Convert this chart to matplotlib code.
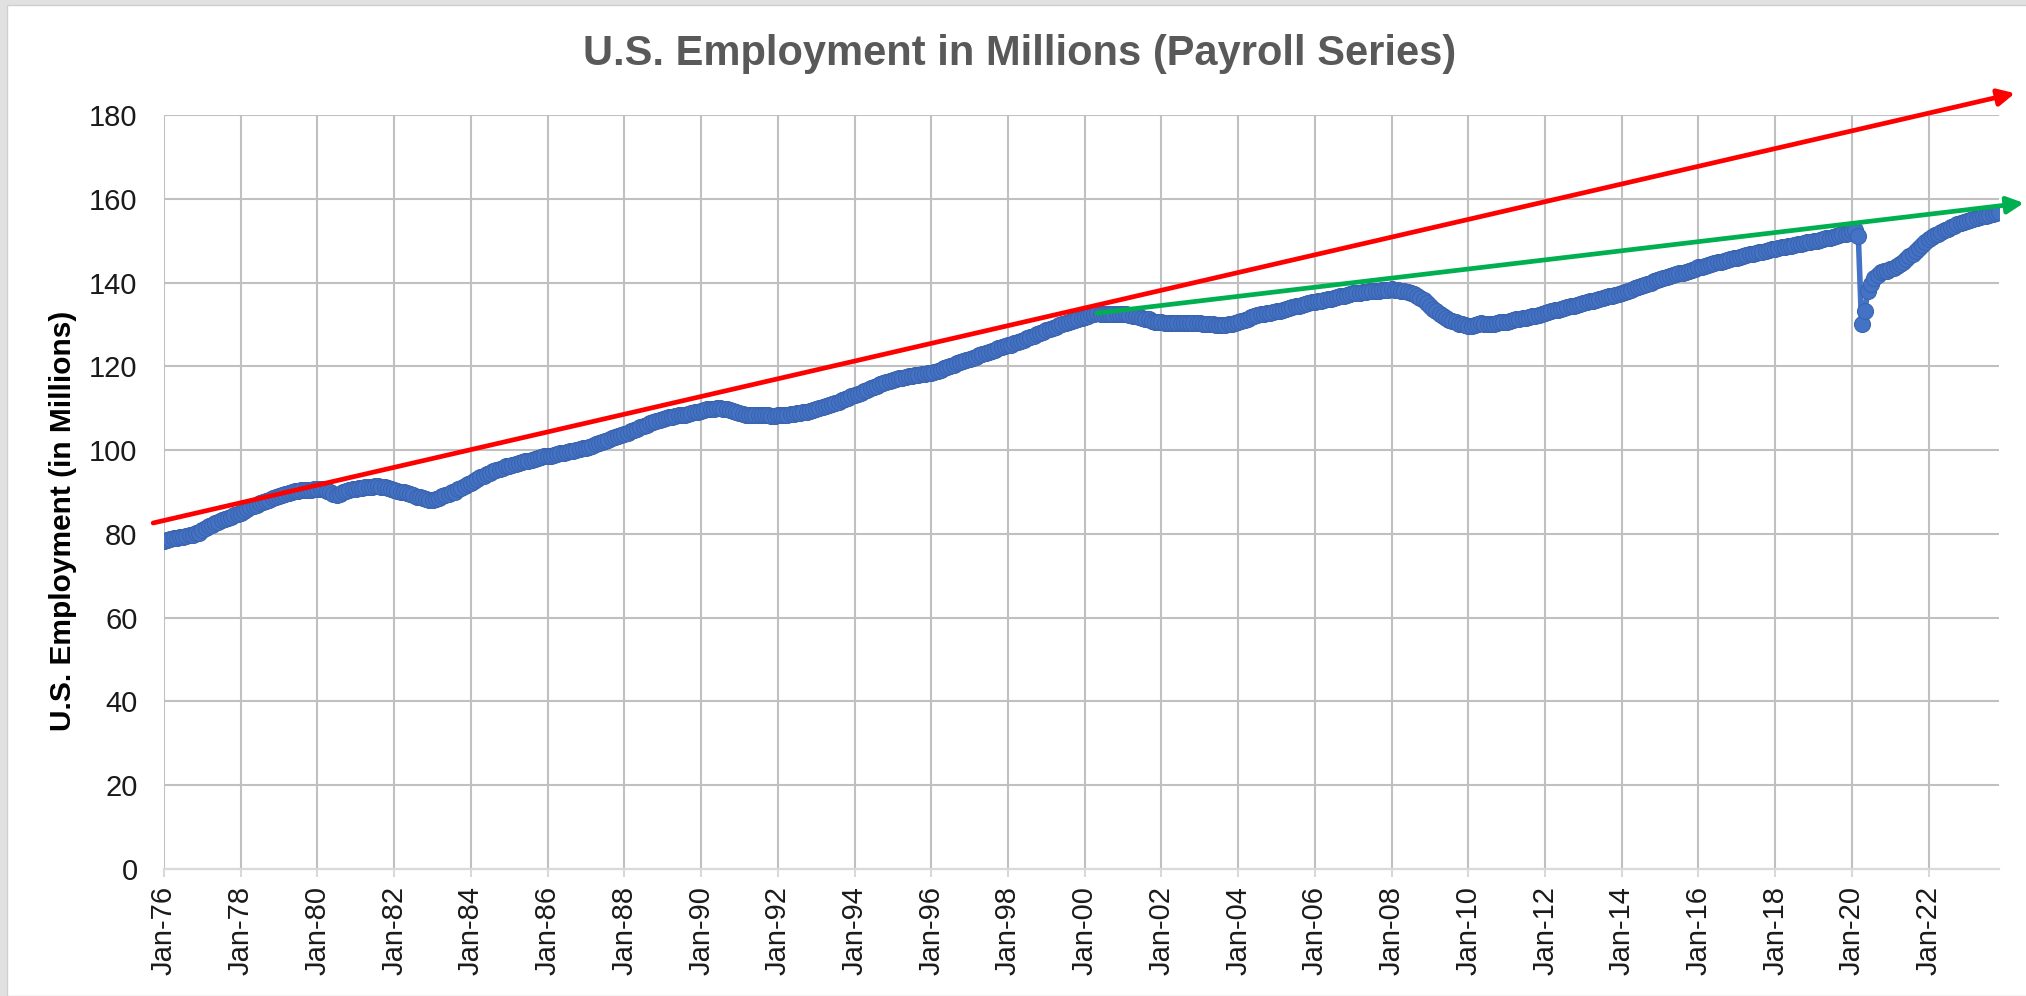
import matplotlib.pyplot as plt
import numpy as np
from matplotlib.patches import Rectangle

plt.rcParams["font.family"] = ["Liberation Sans", "DejaVu Sans"]

# Monthly nonfarm payroll employment (millions), Jan 1976 .. Nov 2023,
# read off the reference chart, one row per year.
emp_1970s = [
    78.3, 78.5, 78.7, 78.9, 79.0, 79.2, 79.3, 79.5, 79.7, 79.8, 80.1, 80.3,  # 1976
    81.0, 81.4, 81.8, 82.2, 82.5, 82.9, 83.2, 83.5, 83.8, 84.1, 84.4, 84.8,  # 1977
    85.1, 85.5, 85.9, 86.3, 86.7, 87.0, 87.3, 87.6, 87.9, 88.2, 88.5, 88.8,  # 1978
    89.0, 89.3, 89.6, 89.8, 90.0, 90.2, 90.3, 90.4, 90.4, 90.5, 90.5, 90.6,  # 1979
]
emp_1980s = [
    90.6, 90.7, 90.6, 90.3, 89.9, 89.5, 89.4, 89.6, 89.9, 90.2, 90.4, 90.6,  # 1980
    90.8, 90.9, 91.0, 91.1, 91.2, 91.3, 91.4, 91.4, 91.3, 91.1, 90.9, 90.7,  # 1981
    90.5, 90.3, 90.1, 89.9, 89.7, 89.5, 89.2, 88.9, 88.7, 88.5, 88.3, 88.2,  # 1982
    88.2, 88.4, 88.6, 89.0, 89.3, 89.6, 89.9, 90.0, 90.6, 91.0, 91.4, 91.8,  # 1983
    92.2, 92.6, 93.1, 93.5, 93.9, 94.3, 94.6, 94.9, 95.2, 95.5, 95.8, 96.1,  # 1984
    96.3, 96.5, 96.7, 96.9, 97.1, 97.3, 97.5, 97.7, 97.9, 98.1, 98.3, 98.5,  # 1985
    98.6, 98.7, 98.8, 99.0, 99.2, 99.3, 99.5, 99.7, 99.9, 100.0, 100.2, 100.4,  # 1986
    100.6, 100.8, 101.1, 101.4, 101.7, 101.9, 102.2, 102.5, 102.8, 103.1, 103.4, 103.7,  # 1987
    103.9, 104.2, 104.5, 104.8, 105.1, 105.5, 105.8, 106.1, 106.4, 106.7, 107.0, 107.3,  # 1988
    107.5, 107.7, 107.9, 108.0, 108.2, 108.3, 108.4, 108.5, 108.7, 108.8, 109.0, 109.1,  # 1989
]
emp_1990s = [
    109.3, 109.5, 109.7, 109.8, 109.9, 110.0, 110.0, 109.9, 109.8, 109.6, 109.4, 109.2,  # 1990
    108.9, 108.6, 108.4, 108.3, 108.3, 108.3, 108.3, 108.3, 108.3, 108.3, 108.2, 108.2,  # 1991
    108.3, 108.3, 108.4, 108.5, 108.6, 108.7, 108.8, 108.9, 109.0, 109.2, 109.3, 109.5,  # 1992
    109.7, 110.0, 110.2, 110.5, 110.7, 111.0, 111.3, 111.6, 111.9, 112.2, 112.5, 112.8,  # 1993
    113.1, 113.4, 113.7, 114.1, 114.4, 114.8, 115.1, 115.4, 115.7, 116.0, 116.3, 116.6,  # 1994
    116.8, 117.0, 117.2, 117.3, 117.5, 117.6, 117.8, 117.9, 118.0, 118.1, 118.2, 118.3,  # 1995
    118.4, 118.6, 118.9, 119.2, 119.5, 119.8, 120.1, 120.4, 120.7, 121.0, 121.3, 121.5,  # 1996
    121.7, 122.0, 122.3, 122.6, 122.9, 123.2, 123.4, 123.7, 124.0, 124.3, 124.6, 124.8,  # 1997
    125.0, 125.2, 125.5, 125.8, 126.1, 126.4, 126.7, 127.0, 127.3, 127.7, 128.0, 128.3,  # 1998
    128.6, 128.9, 129.2, 129.5, 129.8, 130.1, 130.3, 130.6, 130.8, 131.1, 131.3, 131.5,  # 1999
]
emp_2000s = [
    131.8, 132.1, 132.4, 132.6, 132.7, 132.6, 132.6, 132.5, 132.5, 132.4, 132.5, 132.5,  # 2000
    132.4, 132.4, 132.3, 132.1, 131.9, 131.8, 131.6, 131.4, 131.2, 130.9, 130.7, 130.6,  # 2001
    130.5, 130.4, 130.4, 130.4, 130.4, 130.4, 130.4, 130.4, 130.4, 130.4, 130.4, 130.3,  # 2002
    130.3, 130.2, 130.1, 130.0, 130.0, 129.9, 129.9, 129.8, 129.9, 130.0, 130.1, 130.3,  # 2003
    130.6, 130.8, 131.1, 131.4, 131.7, 132.0, 132.2, 132.4, 132.5, 132.7, 132.8, 133.0,  # 2004
    133.1, 133.3, 133.5, 133.7, 133.9, 134.1, 134.3, 134.5, 134.7, 134.9, 135.1, 135.3,  # 2005
    135.4, 135.5, 135.7, 135.8, 136.0, 136.1, 136.3, 136.5, 136.7, 136.9, 137.1, 137.3,  # 2006
    137.4, 137.5, 137.6, 137.7, 137.8, 137.9, 138.0, 138.0, 138.1, 138.2, 138.3, 138.3,  # 2007
    138.4, 138.3, 138.3, 138.1, 138.0, 137.8, 137.6, 137.3, 136.9, 136.4, 135.8, 135.2,  # 2008
    134.5, 133.8, 133.1, 132.5, 132.0, 131.5, 131.1, 130.8, 130.5, 130.2, 130.0, 129.8,  # 2009
]
emp_2010s = [
    129.6, 129.6, 129.8, 130.0, 130.3, 130.2, 130.2, 130.2, 130.2, 130.4, 130.5, 130.6,  # 2010
    130.7, 130.9, 131.1, 131.3, 131.4, 131.5, 131.6, 131.7, 131.9, 132.1, 132.3, 132.5,  # 2011
    132.8, 133.0, 133.2, 133.4, 133.5, 133.7, 133.9, 134.1, 134.3, 134.5, 134.7, 134.9,  # 2012
    135.1, 135.3, 135.5, 135.7, 135.9, 136.1, 136.3, 136.5, 136.7, 136.9, 137.1, 137.3,  # 2013
    137.5, 137.7, 138.0, 138.3, 138.6, 138.9, 139.2, 139.4, 139.7, 140.0, 140.3, 140.6,  # 2014
    140.8, 141.0, 141.3, 141.5, 141.8, 142.0, 142.2, 142.4, 142.6, 142.8, 143.0, 143.3,  # 2015
    143.6, 143.8, 144.0, 144.2, 144.4, 144.6, 144.8, 145.0, 145.2, 145.4, 145.6, 145.8,  # 2016
    145.9, 146.1, 146.3, 146.5, 146.7, 146.9, 147.0, 147.2, 147.4, 147.6, 147.8, 148.0,  # 2017
    148.1, 148.2, 148.4, 148.5, 148.7, 148.8, 149.0, 149.1, 149.2, 149.4, 149.6, 149.8,  # 2018
    149.9, 150.0, 150.2, 150.4, 150.6, 150.7, 150.9, 151.1, 151.3, 151.5, 151.7, 151.9,  # 2019
]
emp_2020s = [
    152.2, 152.5, 151.0, 130.2, 133.2, 138.0, 139.7, 141.1, 141.9, 142.5, 142.8, 142.7,  # 2020
    143.2, 143.5, 144.0, 144.4, 144.9, 145.6, 146.3, 146.9, 147.5, 148.2, 148.9, 149.6,  # 2021
    150.3, 150.8, 151.3, 151.7, 152.1, 152.5, 152.9, 153.3, 153.6, 153.9, 154.2, 154.5,  # 2022
    154.8, 155.0, 155.2, 155.4, 155.6, 155.8, 156.0, 156.2, 156.4, 156.6, 156.8,  # 2023
]

tick_labels = [
    "Jan-76", "Jan-78", "Jan-80", "Jan-82", "Jan-84", "Jan-86", "Jan-88",
    "Jan-90", "Jan-92", "Jan-94", "Jan-96", "Jan-98", "Jan-00", "Jan-02",
    "Jan-04", "Jan-06", "Jan-08", "Jan-10", "Jan-12", "Jan-14", "Jan-16",
    "Jan-18", "Jan-20", "Jan-22",
]

# hand-drawn trend arrows, (month index, millions)
red_trend = [(-3.4, 82.6), (579.0, 185.2)]
green_trend = [(291.8, 132.7), (581.8, 159.0)]

employment = np.concatenate(
    [emp_1970s, emp_1980s, emp_1990s, emp_2000s, emp_2010s, emp_2020s]
)
months = np.arange(len(employment))

fig = plt.figure(figsize=(20.26, 9.96), dpi=100)
fig.patch.set_facecolor("#e1e1e1")
fig.add_artist(
    Rectangle((7 / 2026, 0), 1, 1 - 5 / 996, transform=fig.transFigure,
              facecolor="white", edgecolor="#cfcfcf", linewidth=1.0, zorder=-5)
)

ax = fig.add_axes([164 / 2026, 127 / 996, 1835 / 2026, 754 / 996])
ax.set_zorder(1)
ax.set_facecolor("white")

ax.plot(
    months,
    employment,
    color="#4472C4",
    linewidth=4,
    marker="o",
    markersize=11.5,
    markerfacecolor="#4472C4",
    markeredgecolor="#3a64b0",
    markeredgewidth=0.8,
    zorder=3,
)

for (x0, y0), (x1, y1), color in (
    (*red_trend, "#ff0000"),
    (*green_trend, "#00b050"),
):
    ax.annotate(
        "",
        xy=(x1, y1),
        xytext=(x0, y0),
        arrowprops=dict(arrowstyle="-|>", color=color, lw=3.4,
                        mutation_scale=25, shrinkA=0, shrinkB=0),
        annotation_clip=False,
        zorder=4,
    )

ax.set_xlim(0, len(employment) - 1)
ax.set_ylim(0, 180)
ax.set_yticks(np.arange(0, 181, 20))
ax.set_xticks(np.arange(0, len(employment), 24)[: len(tick_labels)])
ax.set_xticklabels(tick_labels, rotation=90)

ax.grid(True, color="#c0c0c0", linewidth=1.5)
ax.set_axisbelow(True)
for side in ("top", "right", "left"):
    ax.spines[side].set_visible(False)
ax.spines["bottom"].set_color("#d9d9d9")
ax.spines["bottom"].set_linewidth(1.6)

ax.tick_params(axis="y", length=0, pad=19, labelsize=21, labelcolor="#1a1a1a")
ax.tick_params(axis="x", length=6, width=1.5, color="#d9d9d9", pad=6,
               labelsize=21, labelcolor="#1a1a1a")

fig.text(63 / 2026, 1 - 521 / 996, "U.S. Employment (in Millions)",
         rotation=90, ha="center", va="center", fontsize=21.5,
         fontweight="bold", color="black")
fig.text(1020 / 2026, 1 - 54 / 996, "U.S. Employment in Millions (Payroll Series)",
         ha="center", va="center", fontsize=30, fontweight="bold",
         color="#595959")

fig.savefig("out.png", dpi=100)
